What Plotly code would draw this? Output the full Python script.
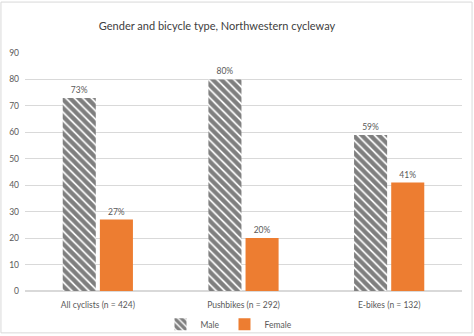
import plotly.graph_objects as go

categories = ["All cyclists (n = 424)", "Pushbikes (n = 292)", "E-bikes (n = 132)"]
male = [73, 80, 59]
female = [27, 20, 41]
title = "Gender and bicycle type, Northwestern cycleway"

FONT = "Lato, sans-serif"

fig = go.Figure()
fig.add_trace(go.Bar(
    x=categories, y=male, name="Male",
    text=[f"{v}%" for v in male], textposition="outside",
    marker=dict(color="white", line=dict(width=0),
                pattern=dict(shape="\\", fgcolor="black", bgcolor="white", size=6, solidity=0.7)),
    cliponaxis=False,
))
fig.add_trace(go.Bar(
    x=categories, y=female, name="Female",
    text=[f"{v}%" for v in female], textposition="outside",
    marker=dict(color="#ED7D31", line=dict(width=0)),
    cliponaxis=False,
))
fig.update_traces(textfont=dict(size=8.5, color="#595959", family=FONT))
fig.update_layout(
    width=474, height=336,
    margin=dict(l=25, r=12, t=53, b=45, autoexpand=False),
    paper_bgcolor="white", plot_bgcolor="white",
    font=dict(family=FONT, color="#595959", size=8.5),
    title=dict(text=title, xref="container", x=217/474, xanchor="center", y=0.922, yanchor="middle",
               font=dict(size=11, color="#404040", family=FONT)),
    barmode="group", bargap=0.49, bargroupgap=0.11,
    showlegend=True,
    legend=dict(orientation="h", xref="container", x=229/474, xanchor="center",
                yref="container", y=0.035, yanchor="middle", bgcolor="rgba(0,0,0,0)",
                font=dict(size=8.5, color="#595959"), itemwidth=30, tracegroupgap=0),
    xaxis=dict(showgrid=False, showline=False, ticks="outside", ticklen=6, tickcolor="rgba(0,0,0,0)",
               tickfont=dict(size=8.5, color="#595959")),
    yaxis=dict(range=[0, 90], dtick=10, showgrid=True, gridcolor="#d9d9d9", gridwidth=1,
               zeroline=True, zerolinecolor="#d9d9d9", showline=False, ticks="",
               ticklabelstandoff=5, tickfont=dict(size=8.5, color="#595959")),
    shapes=[dict(type="rect", xref="paper", yref="paper", x0=-0.055, x1=1.023, y0=-0.176, y1=1.214,
                 line=dict(color="#d9d9d9", width=1))],
)
fig.write_html("out.html")
